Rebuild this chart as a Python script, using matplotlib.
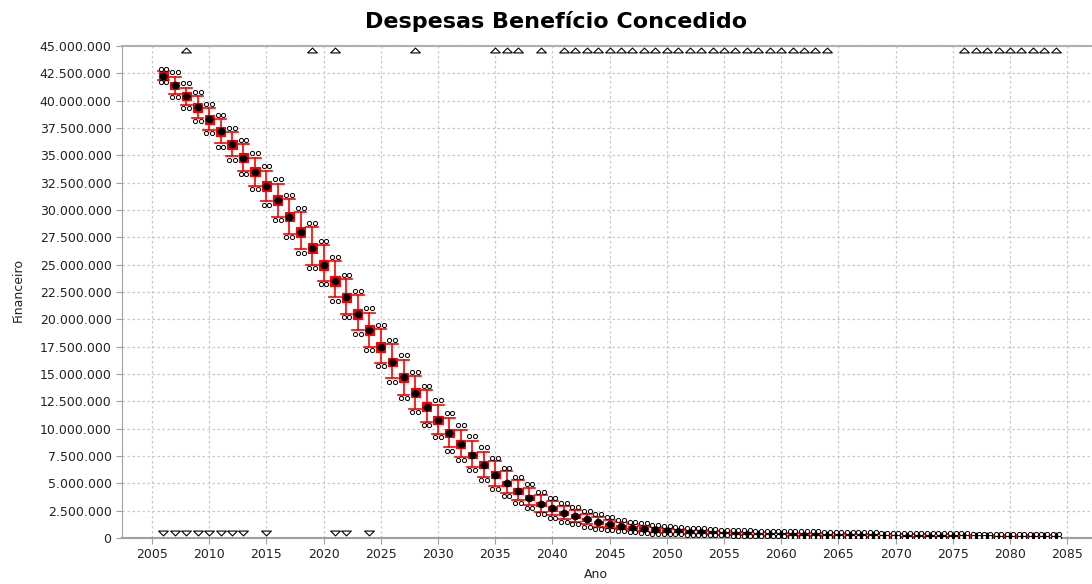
import numpy as np
import matplotlib
matplotlib.use("Agg")
import matplotlib.pyplot as plt
from matplotlib.ticker import FuncFormatter, MultipleLocator
import matplotlib.transforms as mtransforms

# anos (categorias)
years = list(range(2006, 2085))

# mediana por ano (milhoes)
med = [42.3, 41.4, 40.4, 39.4, 38.3, 37.2, 36.0, 34.8, 33.5, 32.2,
       30.9, 29.4, 28.0, 26.5, 25.0, 23.5, 22.0, 20.5, 19.0, 17.5,
       16.1, 14.7, 13.3, 12.0, 10.8, 9.6, 8.6, 7.6, 6.7, 5.8,
       5.0, 4.3, 3.7, 3.1, 2.7, 2.3, 2.0, 1.7, 1.45, 1.25,
       1.08, 0.95, 0.84, 0.75, 0.67, 0.61, 0.56, 0.51, 0.47, 0.44,
       0.41, 0.39, 0.37, 0.35, 0.34, 0.32, 0.31, 0.30, 0.29, 0.27,
       0.26, 0.25, 0.24, 0.23, 0.22, 0.21, 0.21, 0.20, 0.19, 0.19,
       0.18, 0.17, 0.17, 0.16, 0.16, 0.15, 0.15, 0.14, 0.14]

# altura da caixa (q3 - q1)
iqr = [0.6, 0.7, 0.7, 0.8, 0.8, 0.8, 0.8, 0.8, 0.8, 0.9,
       0.9, 0.9, 0.9, 0.9, 0.9, 0.9, 0.9, 0.9, 0.9, 0.9,
       0.8, 0.8, 0.8, 0.8, 0.7, 0.7, 0.7, 0.6, 0.6, 0.6,
       0.5, 0.5, 0.5, 0.4, 0.4, 0.4, 0.35, 0.35, 0.3, 0.3,
       0.3, 0.3, 0.25, 0.25, 0.25, 0.25, 0.25, 0.25, 0.2, 0.2,
       0.2, 0.2, 0.2, 0.2, 0.2, 0.2, 0.2, 0.2, 0.2, 0.2,
       0.2, 0.2, 0.2, 0.2, 0.2, 0.2, 0.2, 0.2, 0.2, 0.2,
       0.15, 0.15, 0.15, 0.15, 0.15, 0.15, 0.15, 0.15, 0.15]

# bigodes: distancia da mediana ate o topo / base
wsk_up = [0.4, 0.8, 0.8, 1.0, 1.0, 1.1, 1.1, 1.2, 1.3, 1.4,
          1.5, 1.6, 1.8, 1.9, 1.8, 1.8, 1.7, 1.7, 1.6, 1.6,
          1.6, 1.6, 1.5, 1.5, 1.4, 1.4, 1.3, 1.3, 1.2, 1.2,
          1.1, 1.0, 0.9, 0.8, 0.7, 0.6, 0.55, 0.5, 0.45, 0.4,
          0.35, 0.3, 0.3, 0.25, 0.25, 0.22, 0.2, 0.2, 0.18, 0.18,
          0.16, 0.16, 0.16, 0.16, 0.16, 0.16, 0.16, 0.16, 0.16, 0.16,
          0.14, 0.14, 0.14, 0.14, 0.14, 0.14, 0.14, 0.14, 0.14, 0.14,
          0.12, 0.12, 0.12, 0.12, 0.12, 0.12, 0.12, 0.12, 0.12]
wsk_dn = [0.4, 0.8, 0.8, 1.0, 1.0, 1.1, 1.1, 1.2, 1.3, 1.4,
          1.5, 1.6, 1.6, 1.5, 1.5, 1.5, 1.5, 1.5, 1.5, 1.5,
          1.5, 1.6, 1.5, 1.4, 1.3, 1.3, 1.2, 1.1, 1.1, 1.0,
          0.9, 0.8, 0.7, 0.7, 0.6, 0.55, 0.5, 0.45, 0.4, 0.35,
          0.3, 0.3, 0.25, 0.25, 0.22, 0.2, 0.2, 0.18, 0.17, 0.16,
          0.15, 0.15, 0.15, 0.15, 0.15, 0.15, 0.15, 0.15, 0.15, 0.15,
          0.13, 0.13, 0.13, 0.13, 0.13, 0.13, 0.13, 0.13, 0.13, 0.13,
          0.1, 0.1, 0.1, 0.1, 0.1, 0.1, 0.1, 0.1, 0.1]

# outliers: distancia da mediana
out_up = [0.6, 1.2, 1.2, 1.4, 1.4, 1.5, 1.5, 1.6, 1.7, 1.8,
          1.9, 2.0, 2.2, 2.3, 2.2, 2.2, 2.1, 2.1, 2.0, 2.0,
          2.0, 2.0, 1.9, 1.9, 1.8, 1.8, 1.7, 1.7, 1.6, 1.55,
          1.4, 1.3, 1.2, 1.1, 1.0, 0.9, 0.8, 0.75, 0.7, 0.65,
          0.6, 0.55, 0.5, 0.45, 0.45, 0.4, 0.38, 0.36, 0.34, 0.32,
          0.3, 0.3, 0.3, 0.3, 0.3, 0.3, 0.3, 0.3, 0.3, 0.3,
          0.27, 0.27, 0.27, 0.27, 0.27, 0.27, 0.27, 0.27, 0.27, 0.27,
          0.24, 0.24, 0.24, 0.24, 0.24, 0.24, 0.24, 0.24, 0.24]
out_dn = [0.6, 1.1, 1.1, 1.3, 1.3, 1.4, 1.4, 1.5, 1.6, 1.7,
          1.8, 1.9, 1.9, 1.8, 1.8, 1.8, 1.8, 1.8, 1.8, 1.8,
          1.8, 1.9, 1.8, 1.7, 1.6, 1.6, 1.5, 1.4, 1.4, 1.3,
          1.2, 1.1, 1.0, 0.95, 0.85, 0.8, 0.7, 0.65, 0.6, 0.5,
          0.45, 0.4, 0.35, 0.35, 0.3, 0.28, 0.26, 0.24, 0.22, 0.2,
          0.2, 0.2, 0.2, 0.2, 0.2, 0.2, 0.2, 0.2, 0.2, 0.2,
          0.17, 0.17, 0.17, 0.17, 0.17, 0.17, 0.17, 0.17, 0.17, 0.17,
          0.12, 0.12, 0.12, 0.12, 0.12, 0.12, 0.12, 0.12, 0.12]

# anos com valores fora da escala (triangulos)
far_high = [2008, 2019, 2021, 2028, 2035, 2036, 2037, 2039] + list(range(2041, 2065)) + list(range(2076, 2085))
far_low = [2006, 2007, 2008, 2009, 2010, 2011, 2012, 2013, 2015, 2021, 2022, 2024]

yticks = np.arange(0, 45000001, 2500000)

M = 1e6
x = np.array(years, dtype=float)
med = np.array(med) * M
iqr = np.array(iqr) * M
q1 = med - iqr / 2
q3 = med + iqr / 2
whi = med + np.array(wsk_up) * M
wlo = med - np.array(wsk_dn) * M
ohi = med + np.array(out_up) * M
olo = med - np.array(out_dn) * M

fig = plt.figure(figsize=(10.92, 5.84), dpi=100)
ax = fig.add_axes([122 / 1092, 46 / 584, 970 / 1092, 492 / 584])

box_w = 0.8
cap_w = 1.0
red = "#ff0000"

for i in range(len(x)):
    xi = x[i]
    ax.plot([xi, xi], [q3[i], whi[i]], color=red, lw=1.2, zorder=3)
    ax.plot([xi, xi], [wlo[i], q1[i]], color=red, lw=1.2, zorder=3)
    ax.plot([xi - cap_w / 2, xi + cap_w / 2], [whi[i], whi[i]], color=red, lw=1.2, zorder=3)
    ax.plot([xi - cap_w / 2, xi + cap_w / 2], [wlo[i], wlo[i]], color=red, lw=1.2, zorder=3)
    ax.add_patch(plt.Rectangle((xi - box_w / 2, q1[i]), box_w, q3[i] - q1[i],
                               facecolor=red, edgecolor=red, lw=0.8, zorder=4))
    ax.plot([xi - box_w / 2 + 0.1, xi + box_w / 2 - 0.1], [med[i], med[i]], color="black", lw=1.0, zorder=5)

ax.plot(x, med, "o", color="black", ms=4.5, zorder=6, ls="none")

# outliers desenhados em par, lado a lado
for dx in (-0.25, 0.25):
    ax.plot(x + dx, ohi, "o", mfc="white", mec="black", mew=0.7, ms=3, ls="none", zorder=6)
    ax.plot(x + dx, olo, "o", mfc="white", mec="black", mew=0.7, ms=3, ls="none", zorder=6)

# triangulos de valores fora da escala
trans = mtransforms.blended_transform_factory(ax.transData, ax.transAxes)
up_tri = [(-1, -0.5), (1, -0.5), (0, 0.5), (-1, -0.5)]
dn_tri = [(-1, 0.5), (1, 0.5), (0, -0.5), (-1, 0.5)]
ax.plot(far_high, [0.991] * len(far_high), marker=up_tri, ms=7, mfc="white", mec="black",
        mew=0.8, ls="none", transform=trans, clip_on=False, zorder=7)
ax.plot(far_low, [0.011] * len(far_low), marker=dn_tri, ms=7, mfc="white", mec="black",
        mew=0.8, ls="none", transform=trans, clip_on=False, zorder=7)

ax.set_xlim(2002.38, 2087.17)
ax.set_ylim(0, 45000000)
ax.xaxis.set_major_locator(MultipleLocator(5))
ax.set_yticks(yticks)
ax.yaxis.set_major_formatter(FuncFormatter(lambda v, p: "{:,}".format(int(round(v))).replace(",", ".")))

ax.grid(True, color="#c8c8c8", ls=(0, (2, 2)), lw=0.9)
ax.set_axisbelow(True)
ax.spines["right"].set_visible(False)
ax.spines["left"].set_color("#a0a0a0")
ax.spines["bottom"].set_color("#a0a0a0")
ax.spines["bottom"].set_linewidth(1.5)
ax.spines["top"].set_color("#b0b0b0")
ax.spines["top"].set_linewidth(1.5)
ax.tick_params(axis="both", colors="#a0a0a0", labelcolor="#222222", labelsize=9, length=4, width=0.8)

fig.text(556 / 1092, 1 - 22 / 584, "Despesas Benefício Concedido", ha="center", va="center",
         fontsize=16, fontweight="bold")
fig.text(596 / 1092, 1 - 574 / 584, "Ano", ha="center", va="center", fontsize=9, color="#222222")
fig.text(18 / 1092, 1 - 290 / 584, "Financeiro", ha="center", va="center", rotation=90,
         fontsize=9, color="#222222")

fig.savefig("out.png", dpi=100)
